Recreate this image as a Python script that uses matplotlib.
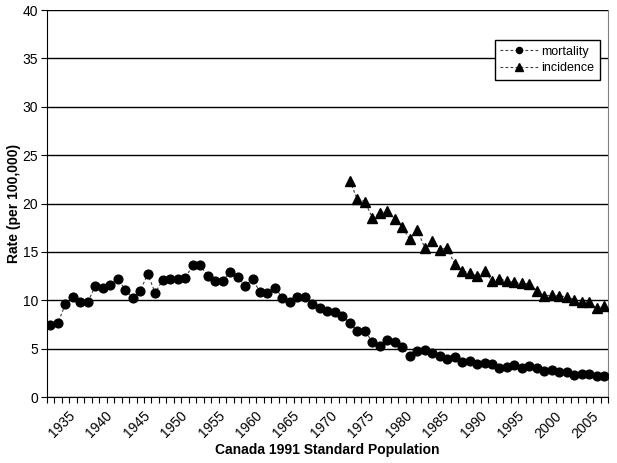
import matplotlib
matplotlib.use("Agg")
import matplotlib.pyplot as plt
from matplotlib.ticker import FixedLocator

plt.rcParams['font.family'] = ['Liberation Sans', 'DejaVu Sans']

years = list(range(1932, 2007))
mortality = [7.4, 7.65, 9.6, 10.3, 9.8, 9.8, 11.5, 11.3, 11.6, 12.2,
             11.1, 10.2, 11.0, 12.7, 10.75, 12.1, 12.15, 12.2, 12.3, 13.6,
             13.6, 12.55, 12.0, 12.0, 12.9, 12.4, 11.5, 12.2, 10.85, 10.75,
             11.3, 10.25, 9.8, 10.35, 10.35, 9.6, 9.2, 8.9, 8.8, 8.4,
             7.65, 6.85, 6.85, 5.7, 5.3, 5.9, 5.7, 5.2, 4.25, 4.8,
             4.9, 4.6, 4.25, 3.95, 4.1, 3.6, 3.75, 3.4, 3.5, 3.4,
             3.0, 3.15, 3.35, 2.95, 3.25, 3.0, 2.7, 2.8, 2.6, 2.6,
             2.25, 2.4, 2.4, 2.2, 2.2]
inc_years = list(range(1972, 2007))
incidence = [22.35, 20.45, 20.2, 18.55, 19.0, 19.25, 18.45, 17.6, 16.3, 17.3,
             15.45, 16.15, 15.2, 15.45, 13.75, 13.05, 12.8, 12.5, 13.05, 12.0,
             12.2, 12.0, 11.85, 11.75, 11.7, 11.0, 10.45, 10.55, 10.45, 10.35,
             10.05, 9.85, 9.8, 9.15, 9.4]
label_years = list(range(1935, 2006, 5))
yticks = list(range(0, 41, 5))

fig = plt.figure(figsize=(6.17, 4.63), dpi=100)
ax = fig.add_axes([0.0757, 0.1425, 0.9097, 0.8359])

ax.plot(years, mortality, linestyle=(0, (2.5, 2)), color='#404040', linewidth=0.8,
        marker='o', markersize=6.3, markerfacecolor='black', markeredgecolor='black',
        label='mortality', zorder=3)
ax.plot(inc_years, incidence, linestyle=(0, (2.5, 2)), color='#404040', linewidth=0.8,
        marker='^', markersize=7.3, markerfacecolor='black', markeredgecolor='black',
        label='incidence', zorder=3)

ax.set_xlim(years[0] - 0.5, years[-1] + 0.5)
ax.set_ylim(0, 40)
ax.set_yticks(yticks)
ax.yaxis.grid(True, color='black', linewidth=1.0)
ax.set_axisbelow(True)

ax.xaxis.set_major_locator(FixedLocator(label_years))
ax.xaxis.set_minor_locator(FixedLocator([y - 0.5 for y in years] + [years[-1] + 0.5]))
ax.set_xticklabels([str(y) for y in label_years], rotation=45, ha='right',
                   va='center', rotation_mode='anchor', fontsize=10)
ax.tick_params(axis='x', which='major', length=0, pad=12)
ax.tick_params(axis='x', which='minor', length=4, width=0.8, direction='out')
ax.tick_params(axis='y', length=4, width=0.8, direction='out', labelsize=10, pad=2)

ax.spines['top'].set_visible(False)
ax.spines['right'].set_color('#808080')
ax.spines['left'].set_color('black')
ax.spines['bottom'].set_color('black')

ax.set_xlabel('Canada 1991 Standard Population', fontsize=10, fontweight='bold', labelpad=2)
ax.set_ylabel('Rate (per 100,000)', fontsize=10, fontweight='bold', labelpad=1)

leg = ax.legend(loc='upper right', bbox_to_anchor=(0.986, 0.9225), fontsize=9,
                frameon=True, fancybox=False, edgecolor='black', framealpha=1,
                handlelength=3.0, handletextpad=0.3, borderpad=0.45, labelspacing=0.35,
                borderaxespad=0, markerscale=0.7)
leg.get_frame().set_linewidth(1.0)

fig.savefig('out.png', dpi=100)
